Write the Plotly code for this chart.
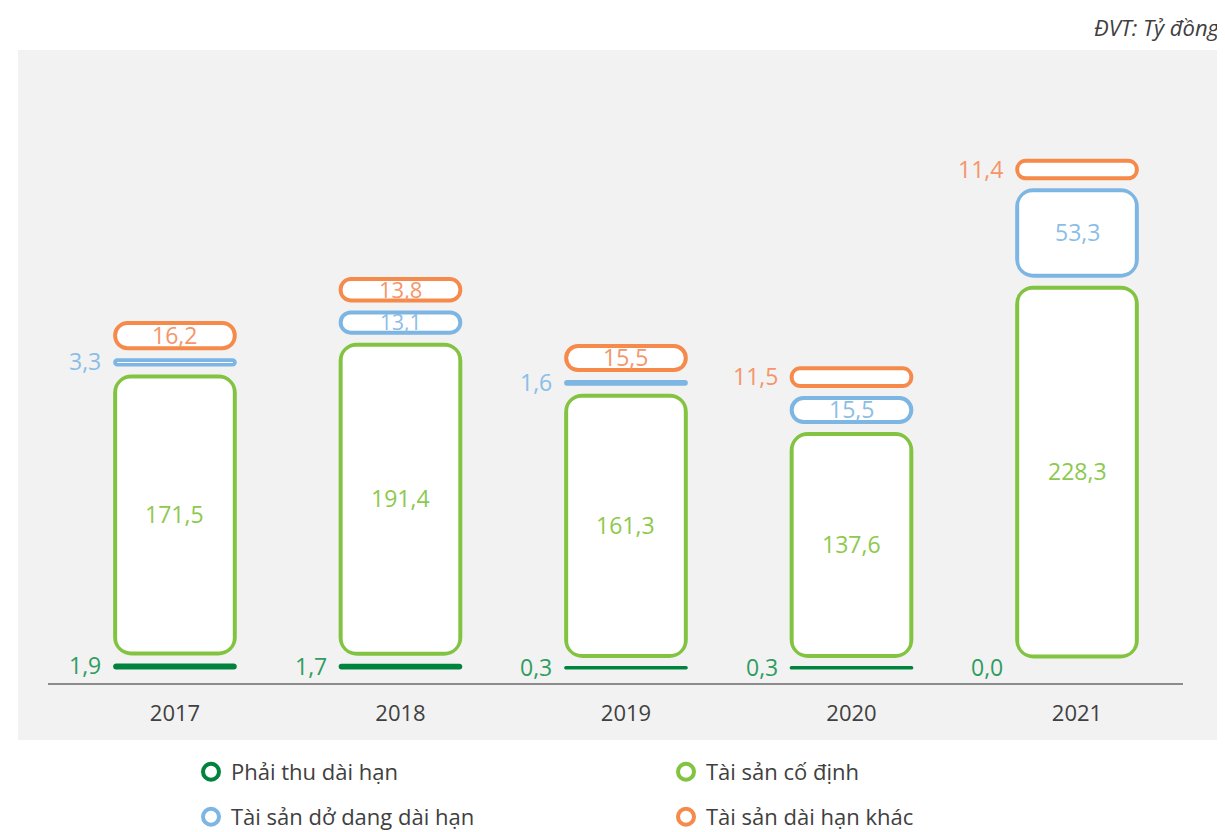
import plotly.graph_objects as go

# ---------------- data ----------------
years = ["2017", "2018", "2019", "2020", "2021"]
phai_thu_dai_han = [1.9, 1.7, 0.3, 0.3, 0.0]
tai_san_co_dinh = [171.5, 191.4, 161.3, 137.6, 228.3]
tai_san_do_dang = [3.3, 13.1, 1.6, 15.5, 53.3]
tai_san_khac = [16.2, 13.8, 15.5, 11.5, 11.4]
series_names = ["Phải thu dài hạn", "Tài sản cố định",
                "Tài sản dở dang dài hạn", "Tài sản dài hạn khác"]
unit_label = "ĐVT: Tỷ đồng"

# ---------------- style ----------------
OFF = 8  # page body margin
W_FIG, H_FIG = 1225 - OFF, 832 - OFF
M_L, M_R, M_T, M_B = 48 - OFF, 1225 - 1183, 60 - OFF, 832 - 683
PLOT_W = W_FIG - M_L - M_R
PLOT_H = H_FIG - M_T - M_B
X_RANGE = [-0.563, 4.47]
Y_RANGE = [-9.26, 375.3]
PX_X = PLOT_W / (X_RANGE[1] - X_RANGE[0])
PX_Y = PLOT_H / (Y_RANGE[1] - Y_RANGE[0])
BAR_W = 0.535
LINE = 3
RING = 2.5
GAP = 11 / PX_Y
R_OUT = 17
R_IN = 13
INSIDE_MIN = 12
FONT = "Open Sans"
LABEL_SIZE = 23


def px(xr):
    """reference page x -> paper fraction"""
    return (xr - OFF - M_L) / PLOT_W


def py(yr):
    """reference page y -> paper fraction"""
    return (H_FIG - M_B - (yr - OFF)) / PLOT_H


colors = ["#00843d", "#82c341", "#7db5e3", "#f58a4a"]
label_colors = ["#2f9d5f", "#8cc94d", "#8bbde6", "#f5956a"]
series = [phai_thu_dai_han, tai_san_co_dinh, tai_san_do_dang, tai_san_khac]

fig = go.Figure()
annotations = []
cum = [0.0] * len(years)
for s, vals in enumerate(series):
    c = colors[s]
    for i, yr in enumerate(years):
        v = vals[i]
        base = cum[i]
        mid = base + v / 2
        inner_px = 0
        if v > 0:
            ro = min(R_OUT, v / 2 * PX_Y)
            fig.add_trace(go.Bar(
                x=[yr], y=[v], base=[base], width=BAR_W,
                marker=dict(color=c, line=dict(color=c, width=LINE), cornerradius=ro),
                showlegend=False, hoverinfo="skip"))
            t = RING / PX_Y
            hi = v - 2 * t
            if hi > 0:
                inner_px = hi * PX_Y
                ri = min(R_IN, hi / 2 * PX_Y)
                fig.add_trace(go.Bar(
                    x=[yr], y=[hi], base=[base + t], width=BAR_W - 2 * RING / PX_X,
                    marker=dict(color="white", line=dict(width=0), cornerradius=ri),
                    showlegend=False, hoverinfo="skip"))
        txt = f"{v:.1f}".replace(".", ",")
        if v >= INSIDE_MIN:
            size = min(LABEL_SIZE, int(inner_px / 0.76))
            annotations.append(dict(x=i, y=mid, text=txt, showarrow=False,
                                    xanchor="center", yanchor="middle", yshift=1,
                                    font=dict(family=FONT, size=size, color=label_colors[s])))
        else:
            annotations.append(dict(x=i, y=mid, text=txt, showarrow=False,
                                    xanchor="right", yanchor="middle", yshift=1,
                                    xshift=-(BAR_W * PX_X / 2 + LINE / 2 + 10),
                                    font=dict(family=FONT, size=LABEL_SIZE, color=label_colors[s])))
        cum[i] = base + v + GAP

# legend entries
for s, name in enumerate(series_names):
    fig.add_trace(go.Scatter(
        x=[None], y=[None], mode="markers", name=name,
        marker=dict(symbol="circle", size=16, color="white",
                    line=dict(color=colors[s], width=4)),
        legend="legend" if s < 2 else "legend2", hoverinfo="skip"))

annotations.append(dict(xref="paper", yref="paper",
                        x=px(1223), y=py(27),
                        xanchor="right", yanchor="middle", showarrow=False,
                        text=unit_label,
                        font=dict(family=FONT, size=22, color="#404040", style="italic")))

legend_common = dict(orientation="h", xanchor="left", yanchor="middle",
                     x=px(191), entrywidth=430,
                     font=dict(family=FONT, size=22, color="#404040"),
                     bgcolor="rgba(0,0,0,0)")

fig.update_layout(
    width=W_FIG, height=H_FIG,
    margin=dict(l=M_L, r=M_R, t=M_T, b=M_B, autoexpand=False),
    barmode="overlay",
    paper_bgcolor="white", plot_bgcolor="rgba(0,0,0,0)",
    showlegend=True,
    legend=dict(legend_common, y=py(772)),
    legend2=dict(legend_common, y=py(817)),
    xaxis=dict(type="category", categoryorder="array", categoryarray=years,
               range=X_RANGE, showline=True, linecolor="#8c8c8c", linewidth=1.5,
               ticks="", showgrid=False, zeroline=False, ticklabelstandoff=10,
               tickfont=dict(family=FONT, size=22, color="#404040"), fixedrange=True),
    yaxis=dict(range=Y_RANGE, visible=False, fixedrange=True),
    shapes=[dict(type="rect", xref="paper", yref="paper",
                 x0=px(18), x1=px(1225) + 0.01,
                 y0=py(740), y1=py(50),
                 fillcolor="#f2f2f2", line=dict(width=0), layer="below")],
    annotations=annotations,
)

fig.write_html("out.html")
